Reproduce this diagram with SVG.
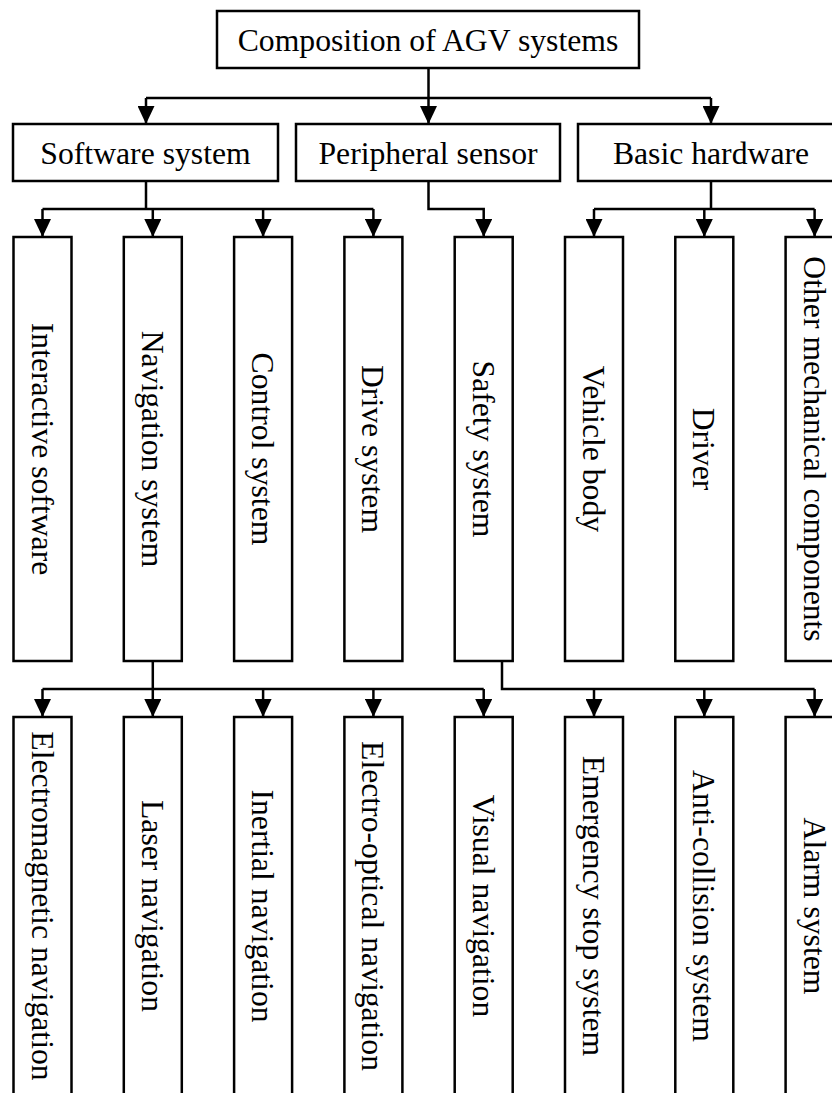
<svg xmlns="http://www.w3.org/2000/svg" width="832" height="1093" viewBox="0 0 832 1093">
<style>
.box{fill:#fff;stroke:#000;stroke-width:2.5}
.t{font-family:"Liberation Serif","Times New Roman",serif;font-size:31.7px;fill:#000;text-anchor:middle}
.c{fill:none;stroke:#000;stroke-width:2.5}
</style>
<defs>
<marker id="ah" markerUnits="userSpaceOnUse" markerWidth="18" markerHeight="17" viewBox="0 0 18 17" refX="18" refY="8.5" orient="auto">
<path d="M0,0 L18,8.5 L0,17 Z" fill="#000"/>
</marker>
</defs>
<rect width="832" height="1093" fill="#fff"/>
<g id="connectors">
<path class="c" d="M428.5,68 V98 M146,98 H711"/>
<path class="c" d="M146,98 V124" marker-end="url(#ah)"/>
<path class="c" d="M428.5,98 V124" marker-end="url(#ah)"/>
<path class="c" d="M711,98 V124" marker-end="url(#ah)"/>
<path class="c" d="M146,181 V209 M42.5,209 H373.4"/>
<path class="c" d="M42.5,209 V237" marker-end="url(#ah)"/>
<path class="c" d="M152.8,209 V237" marker-end="url(#ah)"/>
<path class="c" d="M263.1,209 V237" marker-end="url(#ah)"/>
<path class="c" d="M373.4,209 V237" marker-end="url(#ah)"/>
<path class="c" d="M428.5,181 V209 H483.7 V237" marker-end="url(#ah)"/>
<path class="c" d="M711,181 V209 M594,209 H814.6"/>
<path class="c" d="M594,209 V237" marker-end="url(#ah)"/>
<path class="c" d="M704.3,209 V237" marker-end="url(#ah)"/>
<path class="c" d="M814.6,209 V237" marker-end="url(#ah)"/>
<path class="c" d="M152.8,661 V689 M42.5,689 H483.7"/>
<path class="c" d="M42.5,689 V717" marker-end="url(#ah)"/>
<path class="c" d="M152.8,689 V717" marker-end="url(#ah)"/>
<path class="c" d="M263.1,689 V717" marker-end="url(#ah)"/>
<path class="c" d="M373.4,689 V717" marker-end="url(#ah)"/>
<path class="c" d="M483.7,689 V717" marker-end="url(#ah)"/>
<path class="c" d="M502,661 V689 H814.6"/>
<path class="c" d="M594,689 V717" marker-end="url(#ah)"/>
<path class="c" d="M704.3,689 V717" marker-end="url(#ah)"/>
<path class="c" d="M814.6,689 V717" marker-end="url(#ah)"/>
</g>
<g id="root"><rect class="box" x="217" y="11" width="422" height="57"/><text class="t" x="428" y="50.5">Composition of AGV systems</text></g>
<g id="software"><rect class="box" x="13" y="124" width="265" height="57"/><text class="t" x="145.5" y="163.5">Software system</text></g>
<g id="peripheral"><rect class="box" x="296" y="124" width="264" height="57"/><text class="t" x="428" y="163.5">Peripheral sensor</text></g>
<g id="hardware"><rect class="box" x="578" y="124" width="266" height="57"/><text class="t" x="711" y="163.5">Basic hardware</text></g>

<g id="interactive"><rect class="box" x="13.5" y="237" width="58" height="424"/><text class="t" transform="translate(31.5,449) rotate(90)">Interactive software</text></g>
<g id="navigation"><rect class="box" x="123.8" y="237" width="58" height="424"/><text class="t" transform="translate(141.8,449) rotate(90)">Navigation system</text></g>
<g id="control"><rect class="box" x="234.1" y="237" width="58" height="424"/><text class="t" transform="translate(252.1,449) rotate(90)">Control system</text></g>
<g id="drive"><rect class="box" x="344.4" y="237" width="58" height="424"/><text class="t" transform="translate(362.4,449) rotate(90)">Drive system</text></g>
<g id="safety"><rect class="box" x="454.7" y="237" width="58" height="424"/><text class="t" transform="translate(472.7,449) rotate(90)">Safety system</text></g>
<g id="body"><rect class="box" x="565" y="237" width="58" height="424"/><text class="t" transform="translate(583,449) rotate(90)">Vehicle body</text></g>
<g id="driver"><rect class="box" x="675.3" y="237" width="58" height="424"/><text class="t" transform="translate(693.3,449) rotate(90)">Driver</text></g>
<g id="other"><rect class="box" x="785.6" y="237" width="58" height="424"/><text class="t" transform="translate(803.6,449) rotate(90)">Other mechanical components</text></g>

<g id="electromagnetic"><rect class="box" x="13.5" y="717" width="58" height="380"/><text class="t" transform="translate(31.5,906) rotate(90)">Electromagnetic navigation</text></g>
<g id="laser"><rect class="box" x="123.8" y="717" width="58" height="380"/><text class="t" transform="translate(141.8,906) rotate(90)">Laser navigation</text></g>
<g id="inertial"><rect class="box" x="234.1" y="717" width="58" height="380"/><text class="t" transform="translate(252.1,906) rotate(90)">Inertial navigation</text></g>
<g id="electrooptical"><rect class="box" x="344.4" y="717" width="58" height="380"/><text class="t" transform="translate(362.4,906) rotate(90)">Electro-optical navigation</text></g>
<g id="visual"><rect class="box" x="454.7" y="717" width="58" height="380"/><text class="t" transform="translate(472.7,906) rotate(90)">Visual navigation</text></g>
<g id="emergency"><rect class="box" x="565" y="717" width="58" height="380"/><text class="t" transform="translate(583,906) rotate(90)">Emergency stop system</text></g>
<g id="anticollision"><rect class="box" x="675.3" y="717" width="58" height="380"/><text class="t" transform="translate(693.3,906) rotate(90)">Anti-collision system</text></g>
<g id="alarm"><rect class="box" x="785.6" y="717" width="58" height="380"/><text class="t" transform="translate(803.6,906) rotate(90)">Alarm system</text></g>
</svg>
